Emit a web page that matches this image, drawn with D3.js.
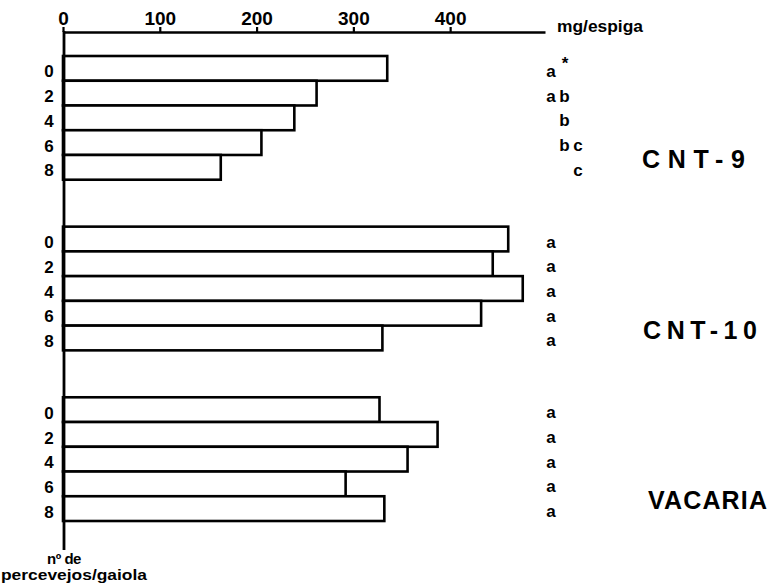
<!DOCTYPE html>
<html>
<head>
<meta charset="utf-8">
<script src="https://cdn.jsdelivr.net/npm/d3@7"></script>
<style>
  body { margin: 0; background: #fff; }
  svg text { font-family: "Liberation Sans", Arial, sans-serif; font-weight: bold; fill: #000; }
</style>
</head>
<body>
<svg id="chart" width="775" height="585"></svg>
<script>
// cultivars and number of bugs per cage
const cultivars = ["CNT-9", "CNT-10", "VACARIA"];
const bugsPerCage = ["0", "2", "4", "6", "8"];

// mg per spike
const cnt9Values = [335, 262, 239, 205, 163];
const cnt10Values = [460, 444, 475, 432, 330];
const vacariaValues = [327, 387, 356, 292, 332];

// significance letters (* = note mark)
const cnt9Letters = ["a*", "ab", "b", "bc", "c"];
const cnt10Letters = ["a", "a", "a", "a", "a"];
const vacariaLetters = ["a", "a", "a", "a", "a"];

const xTicks = [0, 100, 200, 300, 400];
const axisMax = 498;

const valuesByCultivar = [cnt9Values, cnt10Values, vacariaValues];
const lettersByCultivar = [cnt9Letters, cnt10Letters, vacariaLetters];

const rows = [];
cultivars.forEach((c, i) => {
    bugsPerCage.forEach((b, j) => {
        rows.push({ cultivar: c, bugs: b, value: valuesByCultivar[i][j], letters: lettersByCultivar[i][j] });
    });
});

const svg = d3.select("#chart");
svg.append("rect").attr("width", 775).attr("height", 585).attr("fill", "#fff");

const x = d3.scaleLinear().domain([0, axisMax]).range([63, 545]);
const yGroup = d3.scaleBand().domain(cultivars).range([56, 521]).paddingInner(0.275);
const yBar = d3.scaleBand().domain(bugsPerCage).range([0, yGroup.bandwidth()]);
const barY = d => yGroup(d.cultivar) + yBar(d.bugs);
const barMid = d => barY(d) + yBar.bandwidth() / 2;

// letter columns: a, b, c step to the right
const letterX = d3.scalePoint().domain(["a", "b", "c"]).range([551, 578]);

// bars
svg.append("g")
    .selectAll("rect")
    .data(rows)
    .join("rect")
    .attr("x", x(0))
    .attr("y", barY)
    .attr("width", d => x(d.value) - x(0))
    .attr("height", yBar.bandwidth())
    .attr("fill", "#fff")
    .attr("stroke", "#000")
    .attr("stroke-width", 2.6);

// top axis
const axis = svg.append("g")
    .attr("transform", "translate(0,32)")
    .call(d3.axisTop(x).tickValues(xTicks).tickSize(5).tickSizeOuter(0).tickPadding(2));
axis.select(".domain").attr("stroke", "#000").attr("stroke-width", 2.6);
axis.selectAll(".tick line").attr("stroke", "#000").attr("stroke-width", 2.2);
axis.selectAll(".tick text")
    .style("font-family", "'Liberation Sans', Arial, sans-serif")
    .style("font-weight", "bold")
    .style("font-size", "19px")
    .attr("fill", "#000");

svg.append("text")
    .attr("x", 557)
    .attr("y", 32)
    .attr("textLength", 86)
    .attr("lengthAdjust", "spacingAndGlyphs")
    .style("font-size", "17px")
    .text("mg/espiga");

// left axis line
svg.append("line")
    .attr("x1", x(0) + 1).attr("x2", x(0) + 1)
    .attr("y1", 31).attr("y2", 550)
    .attr("stroke", "#000")
    .attr("stroke-width", 2.8);

// bug count labels
svg.append("g")
    .selectAll("text")
    .data(rows)
    .join("text")
    .attr("x", 49)
    .attr("y", d => barMid(d) + 3)
    .attr("dy", "0.36em")
    .attr("text-anchor", "middle")
    .style("font-size", "17px")
    .text(d => d.bugs);

// significance letters
const letterG = svg.append("g");
rows.forEach(d => {
    d.letters.replace("*", "").split("").forEach(ch => {
        letterG.append("text")
            .attr("x", letterX(ch))
            .attr("y", barMid(d) + 8.5)
            .attr("text-anchor", "middle")
            .style("font-size", "17px")
            .text(ch);
    });
    if (d.letters.includes("*")) {
        letterG.append("text")
            .attr("x", letterX("a") + 14)
            .attr("y", barMid(d) + 1)
            .attr("text-anchor", "middle")
            .style("font-size", "17px")
            .text("*");
    }
});

// cultivar names
const nameLayout = { "CNT-9": [642, 103], "CNT-10": [643, 114], "VACARIA": [648, 119] };
svg.append("g")
    .selectAll("text")
    .data(cultivars)
    .join("text")
    .attr("x", d => nameLayout[d][0])
    .attr("y", d => yGroup(d) + yBar("8") + 4)
    .attr("dy", "0.36em")
    .attr("textLength", d => nameLayout[d][1])
    .attr("lengthAdjust", "spacing")
    .style("font-size", "25px")
    .text(d => d);

// bottom-left axis title
svg.append("text")
    .attr("x", 64)
    .attr("y", 564)
    .attr("text-anchor", "middle")
    .style("font-size", "15px")
    .style("letter-spacing", "-0.5px")
    .text("nº de");
svg.append("text")
    .attr("x", 1)
    .attr("y", 580)
    .attr("textLength", 146)
    .attr("lengthAdjust", "spacingAndGlyphs")
    .style("font-size", "15px")
    .text("percevejos/gaiola");
</script>
</body>
</html>
